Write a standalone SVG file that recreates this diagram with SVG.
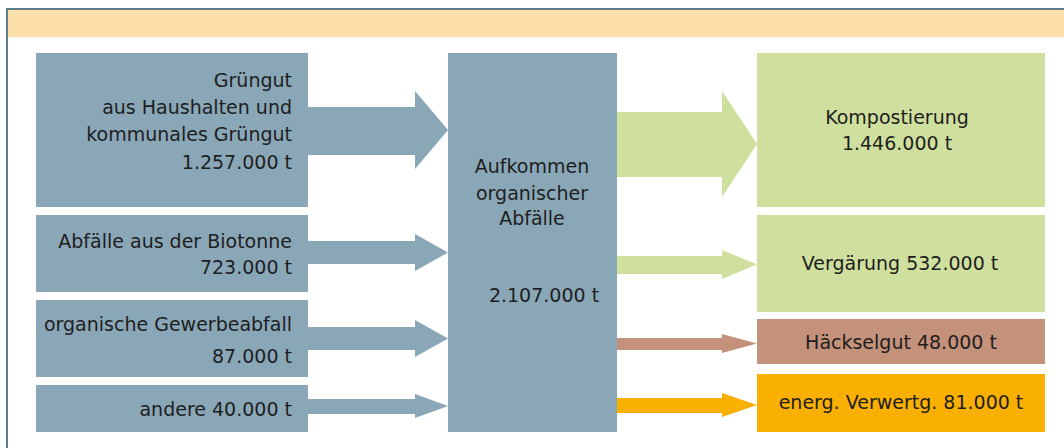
<svg xmlns="http://www.w3.org/2000/svg" width="1064" height="448" viewBox="0 0 1064 448">
<style>
.bg{fill:#ffffff}
.banner{fill:#fde0a9}
.frame{fill:none;stroke:#5e7d8d;stroke-width:2}
.blue{fill:#8aa7b8}
.green{fill:#cfdf9d}
.brown{fill:#c4917a}
.orange{fill:#f9b000}
text{font-family:"DejaVu Sans","Liberation Sans",sans-serif;font-size:19px;fill:#1e1e1e}
.r{text-anchor:end}
.m{text-anchor:middle}
</style>
<rect class="bg" x="0" y="0" width="1064" height="448"/>
<rect class="banner" x="8" y="10" width="1056" height="27"/>
<path class="frame" d="M7,448 V9 H1064"/>

<g id="connectors">
<polygon class="blue" points="308,107 415,107 415,91 448,130 415,169 415,155 308,155"/>
<polygon class="blue" points="308,241 415,241 415,234 448,252.5 415,271 415,264 308,264"/>
<polygon class="blue" points="308,327 415,327 415,320 448,338.5 415,357 415,350 308,350"/>
<polygon class="blue" points="308,399 415,399 415,394 448,406 415,418 415,414 308,414"/>
<polygon class="green" points="617,112 722,112 722,91 757,144 722,197 722,177 617,177"/>
<polygon class="green" points="617,256 722,256 722,250 757,264.5 722,279 722,274 617,274"/>
<polygon class="brown" points="617,338 722,338 722,334 757,343.5 722,353 722,350 617,350"/>
<polygon class="orange" points="617,398 722,398 722,393 757,405 722,417 722,413 617,413"/>
</g>

<g id="src-gruengut">
<rect class="blue" x="36" y="53" width="272" height="154"/>
<text class="r" x="292" y="87">Grüngut</text>
<text class="r" x="292" y="114">aus Haushalten und</text>
<text class="r" x="292" y="141">kommunales Grüngut</text>
<text class="r" x="292" y="169">1.257.000 t</text>
</g>
<g id="src-biotonne">
<rect class="blue" x="36" y="215" width="272" height="77"/>
<text class="r" x="292" y="248">Abfälle aus der Biotonne</text>
<text class="r" x="292" y="274">723.000 t</text>
</g>
<g id="src-gewerbe">
<rect class="blue" x="36" y="300" width="272" height="77"/>
<text class="r" x="292" y="331">organische Gewerbeabfall</text>
<text class="r" x="292" y="363">87.000 t</text>
</g>
<g id="src-andere">
<rect class="blue" x="36" y="385" width="272" height="47"/>
<text class="r" x="292" y="416">andere 40.000 t</text>
</g>

<g id="center">
<rect class="blue" x="448" y="53" width="169" height="379"/>
<text class="m" x="532" y="173">Aufkommen</text>
<text class="m" x="532" y="200">organischer</text>
<text class="m" x="532" y="225">Abfälle</text>
<text class="m" x="544" y="302">2.107.000 t</text>
</g>

<g id="dst-kompost">
<rect class="green" x="757" y="53" width="288" height="154"/>
<text class="m" x="897" y="124">Kompostierung</text>
<text class="m" x="897" y="150">1.446.000 t</text>
</g>
<g id="dst-vergaerung">
<rect class="green" x="757" y="215" width="288" height="97"/>
<text class="m" x="900" y="270">Vergärung 532.000 t</text>
</g>
<g id="dst-haecksel">
<rect class="brown" x="757" y="319" width="288" height="45"/>
<text class="m" x="901" y="349">Häckselgut 48.000 t</text>
</g>
<g id="dst-energ">
<rect class="orange" x="757" y="374" width="288" height="58"/>
<text class="m" x="901" y="409">energ. Verwertg. 81.000 t</text>
</g>
</svg>
